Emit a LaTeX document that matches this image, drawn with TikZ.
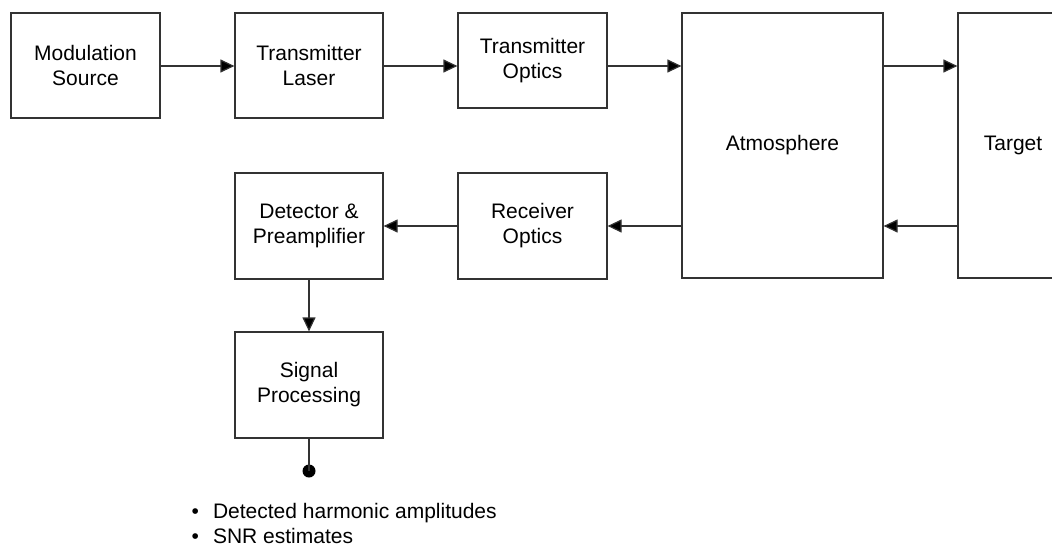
\documentclass[tikz,border=0pt]{standalone}
\usepackage{fontspec}
\setmainfont{Liberation Sans}
\usetikzlibrary{arrows.meta}
\tikzset{
  blk/.style={draw=black!80, line width=1.2pt, rectangle, inner sep=0pt,
    align=center, font=\fontsize{21}{25}\selectfont},
  flow/.style={draw=black!80, line width=1.2pt,
    -{Triangle[length=14pt,width=13pt,fill=black]}},
  wire/.style={draw=black!80, line width=1.2pt},
  note/.style={anchor=base west, inner sep=0pt, font=\fontsize{21}{25}\selectfont}
}
\begin{document}
\begin{tikzpicture}[x=1pt,y=-1pt]
\useasboundingbox (0,0) rectangle (1052,546);
% transmit chain
\node[blk, minimum width=149pt, minimum height=105pt] (mod) at (85.5,65.5) {Modulation\\Source};
\node[blk, minimum width=148pt, minimum height=105pt] (laser) at (309,65.5) {Transmitter\\Laser};
\node[blk, minimum width=149pt, minimum height=95pt] (txopt) at (532.5,60.5) {Transmitter\\Optics};
\node[blk, minimum width=201pt, minimum height=265pt] (atm) at (782.5,145.5) {Atmosphere};
\node[blk, minimum width=110pt, minimum height=265pt] (target) at (1013,145.5) {Target};
% receive chain
\node[blk, minimum width=148pt, minimum height=106pt] (det) at (309,226) {Detector \&\\Preamplifier};
\node[blk, minimum width=149pt, minimum height=106pt] (rxopt) at (532.5,226) {Receiver\\Optics};
\node[blk, minimum width=148pt, minimum height=106pt] (sig) at (309,385) {Signal\\Processing};
% output terminal
\node[circle, fill=black, inner sep=0pt, minimum size=13pt] (out) at (sig.south |- 0,471) {};
% outgoing path
\draw[flow] (mod.east |- 0,66) -- (laser.west |- 0,66);
\draw[flow] (laser.east |- 0,66) -- (txopt.west |- 0,66);
\draw[flow] (txopt.east |- 0,66) -- (atm.west |- 0,66);
\draw[flow] (atm.east |- 0,66) -- (target.west |- 0,66);
% return path
\draw[flow] (target.west |- det.east) -- (atm.east |- det.east);
\draw[flow] (atm.west |- det.east) -- (rxopt.east);
\draw[flow] (rxopt.west) -- (det.east);
\draw[flow] (det.south) -- (sig.north);
\draw[wire] (sig.south) -- (out.center);
% output list
\node[note] (l1) at (191.5,518) {\textbullet\hspace{14pt}Detected harmonic amplitudes};
\node[note] (l2) at (191.5,543) {\textbullet\hspace{14pt}SNR estimates};
\end{tikzpicture}
\end{document}
